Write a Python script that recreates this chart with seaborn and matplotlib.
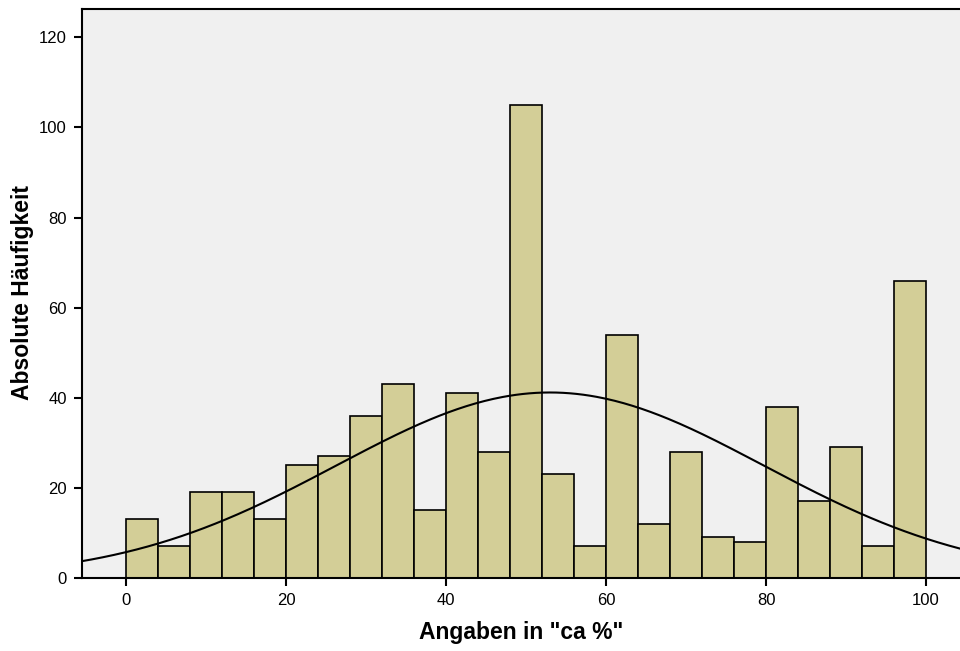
import numpy as np
import pandas as pd
import matplotlib
matplotlib.use("Agg")
import matplotlib.pyplot as plt
import seaborn as sns

# Data
bin_starts = [0, 4, 8, 12, 16, 20, 24, 28, 32, 36, 40, 44, 48,
              52, 56, 60, 64, 68, 72, 76, 80, 84, 88, 92, 96]
counts = [13, 7, 19, 19, 13, 25, 27, 36, 43, 15, 41, 28, 105,
          23, 7, 54, 12, 28, 9, 8, 38, 17, 29, 7, 66]
bin_width = 4
fit_mean = 53.0
fit_sd = 26.7
x_ticks = [0, 20, 40, 60, 80, 100]
y_ticks = [0, 20, 40, 60, 80, 100, 120]

sns.set_style("white")
plt.rcParams['font.family'] = ['Liberation Sans', 'DejaVu Sans']
plt.rcParams['text.color'] = 'black'
plt.rcParams['xtick.color'] = 'black'
plt.rcParams['ytick.color'] = 'black'
plt.rcParams['axes.labelcolor'] = 'black'

df = pd.DataFrame({"x": np.array(bin_starts) + bin_width / 2, "n": counts})

fig = plt.figure(figsize=(9.6, 6.51), dpi=100)
ax = fig.add_axes([82 / 960, 1 - 578 / 651, 1 - 82 / 960, (578 - 9) / 651])
ax.set_facecolor("#f0f0f0")

edges = list(bin_starts) + [bin_starts[-1] + bin_width]
sns.histplot(data=df, x="x", weights="n", bins=edges, ax=ax,
             color="#d3ce97", edgecolor="black", linewidth=1.2, alpha=1)

N = sum(counts)
xs = np.linspace(-6, 106, 400)
ys = N * bin_width / (fit_sd * np.sqrt(2 * np.pi)) * np.exp(-(xs - fit_mean) ** 2 / (2 * fit_sd ** 2))
sns.lineplot(x=xs, y=ys, ax=ax, color="black", linewidth=1.5)

ax.set_xlim(-5.5, 104.25)
ax.set_ylim(0, 126.3)
ax.set_xticks(x_ticks)
ax.set_yticks(y_ticks)
ax.tick_params(axis="both", direction="out", length=6, width=1.5, labelsize=12,
               color="black", pad=5, bottom=True, left=True)
for s in ["left", "bottom", "top"]:
    ax.spines[s].set_visible(True)
    ax.spines[s].set_color("black")
    ax.spines[s].set_linewidth(1.5)
ax.spines["right"].set_visible(False)

ax.set_xlabel('Angaben in "ca %"', fontsize=16.5, fontweight="bold", labelpad=9)
ax.set_ylabel("Absolute Häufigkeit", fontsize=16.5, fontweight="bold")
ax.yaxis.set_label_coords((34 - 82) / 878, 0.5 + (578 - 294 - 569 / 2) / 569 * -1)

fig.savefig("out.png", dpi=100)
